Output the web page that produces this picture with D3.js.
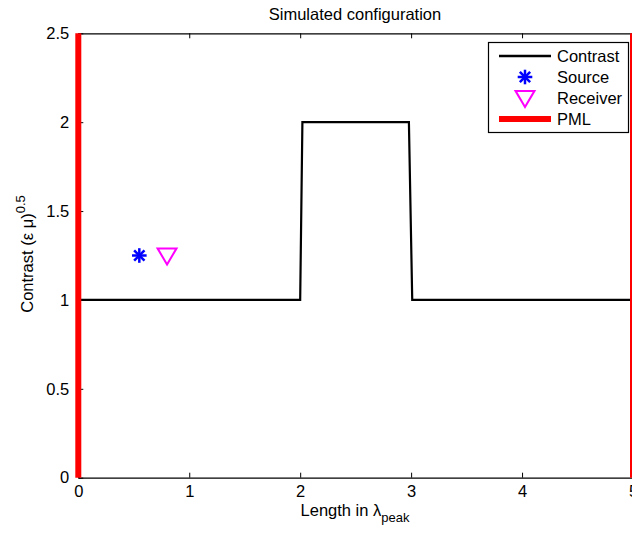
<!DOCTYPE html>
<html>
<head>
<meta charset="utf-8">
<script src="https://cdn.jsdelivr.net/npm/d3@7"></script>
<style>
  body { margin: 0; background: #fff; }
  svg { display: block; font-family: "Liberation Sans", Arial, sans-serif; }
</style>
</head>
<body>
<svg id="chart" width="632" height="534"></svg>
<script>
// contrast profile
const contrastX = [0, 2, 2.02, 2.98, 3.01, 5]
const contrastY = [1, 1, 2, 2, 1, 1]
const source = [{ x: 0.55, y: 1.25 }]
const receiver = [{ x: 0.8, y: 1.25 }]
const pmlX = [0, 5]
const xTicks = [0, 1, 2, 3, 4, 5]
const yTicks = [0, 0.5, 1, 1.5, 2, 2.5]
const legendItems = ["Contrast", "Source", "Receiver", "PML"]

const svg = d3.select("#chart")
const margin = { left: 78.3, top: 33.3, right: 633, bottom: 477.7 }
const fs = 16.5

const x = d3.scaleLinear().domain([0, 5]).range([margin.left, margin.right])
const y = d3.scaleLinear().domain([0, 2.5]).range([margin.bottom, margin.top])

// axes box
const fmt = d3.format("~g")
const bottomAxis = d3.axisBottom(x).tickValues(xTicks).tickSizeInner(-5).tickSizeOuter(0).tickPadding(8).tickFormat(fmt)
const topAxis = d3.axisTop(x).tickValues(xTicks).tickSizeInner(-5).tickSizeOuter(0).tickFormat("")
const leftAxis = d3.axisLeft(y).tickValues(yTicks).tickSizeInner(-5).tickSizeOuter(0).tickPadding(9).tickFormat(fmt)

const gx = svg.append("g").attr("transform", `translate(0,${margin.bottom})`).call(bottomAxis)
const gt = svg.append("g").attr("transform", `translate(0,${margin.top})`).call(topAxis)
const gy = svg.append("g").attr("transform", `translate(${margin.left},0)`).call(leftAxis)

;[gx, gt, gy].forEach((g) => {
  g.select(".domain").attr("stroke", "#000").attr("stroke-width", 1.3)
  g.selectAll(".tick line").attr("stroke", "#000")
  g.selectAll("text").attr("font-size", fs).attr("fill", "#000").attr("font-family", "Liberation Sans, Arial, sans-serif")
})

// contrast line
const line = d3.line().x((d) => x(d[0])).y((d) => y(d[1]))
svg.append("path")
  .datum(contrastX.map((v, i) => [v, contrastY[i]]))
  .attr("d", line)
  .attr("fill", "none")
  .attr("stroke", "#000")
  .attr("stroke-width", 2.2)

// PML boundaries
svg.selectAll("line.pml")
  .data(pmlX)
  .enter()
  .append("line")
  .attr("class", "pml")
  .attr("x1", (d) => x(d))
  .attr("x2", (d) => x(d))
  .attr("y1", y(0))
  .attr("y2", y(2.5))
  .attr("stroke", "#ff0000")
  .attr("stroke-width", 6)

function asterisk(g, cx, cy, r, color) {
  for (let a = 0; a < 4; a++) {
    const t = (a * Math.PI) / 4
    g.append("line")
      .attr("x1", cx - r * Math.cos(t)).attr("y1", cy - r * Math.sin(t))
      .attr("x2", cx + r * Math.cos(t)).attr("y2", cy + r * Math.sin(t))
      .attr("stroke", color).attr("stroke-width", 2.5)
  }
}
function triangle(g, cx, cy, r, color) {
  g.append("path")
    .attr("d", `M${cx - r},${cy - r * 0.75}L${cx + r},${cy - r * 0.75}L${cx},${cy + r * 0.95}Z`)
    .attr("fill", "none").attr("stroke", color).attr("stroke-width", 2)
}

source.forEach((d) => asterisk(svg, x(d.x), y(d.y), 7.3, "#0000ff"))
receiver.forEach((d) => triangle(svg, x(d.x), y(d.y), 9.5, "#ff00ff"))

// title and labels
svg.append("text").attr("x", 355).attr("y", 20).attr("text-anchor", "middle")
  .attr("font-size", fs).text("Simulated configuration")

const xl = svg.append("text").attr("x", 355).attr("y", 516).attr("text-anchor", "middle").attr("font-size", fs)
xl.append("tspan").text("Length in λ")
xl.append("tspan").attr("dy", 6).attr("font-size", 13).text("peak")

const yl = svg.append("text").attr("transform", "translate(33,254) rotate(-90)").attr("text-anchor", "middle").attr("font-size", fs)
yl.append("tspan").text("Contrast (ε μ)")
yl.append("tspan").attr("dy", -8).attr("font-size", 13).text("0.5")

// legend
const lg = svg.append("g")
lg.append("rect").attr("x", 488.5).attr("y", 42.5).attr("width", 140).attr("height", 90)
  .attr("fill", "#fff").attr("stroke", "#000").attr("stroke-width", 1.2)

legendItems.forEach((name, i) => {
  const cy = 56 + i * 21
  if (name === "Contrast") {
    lg.append("line").attr("x1", 499).attr("x2", 551).attr("y1", cy).attr("y2", cy)
      .attr("stroke", "#000").attr("stroke-width", 2.5)
  } else if (name === "Source") {
    asterisk(lg, 525, cy, 7.3, "#0000ff")
  } else if (name === "Receiver") {
    triangle(lg, 525, cy, 9.5, "#ff00ff")
  } else {
    lg.append("line").attr("x1", 499).attr("x2", 551).attr("y1", cy).attr("y2", cy)
      .attr("stroke", "#ff0000").attr("stroke-width", 6)
  }
  lg.append("text").attr("x", 557).attr("y", cy + 6).attr("font-size", fs).text(name)
})
</script>
</body>
</html>
